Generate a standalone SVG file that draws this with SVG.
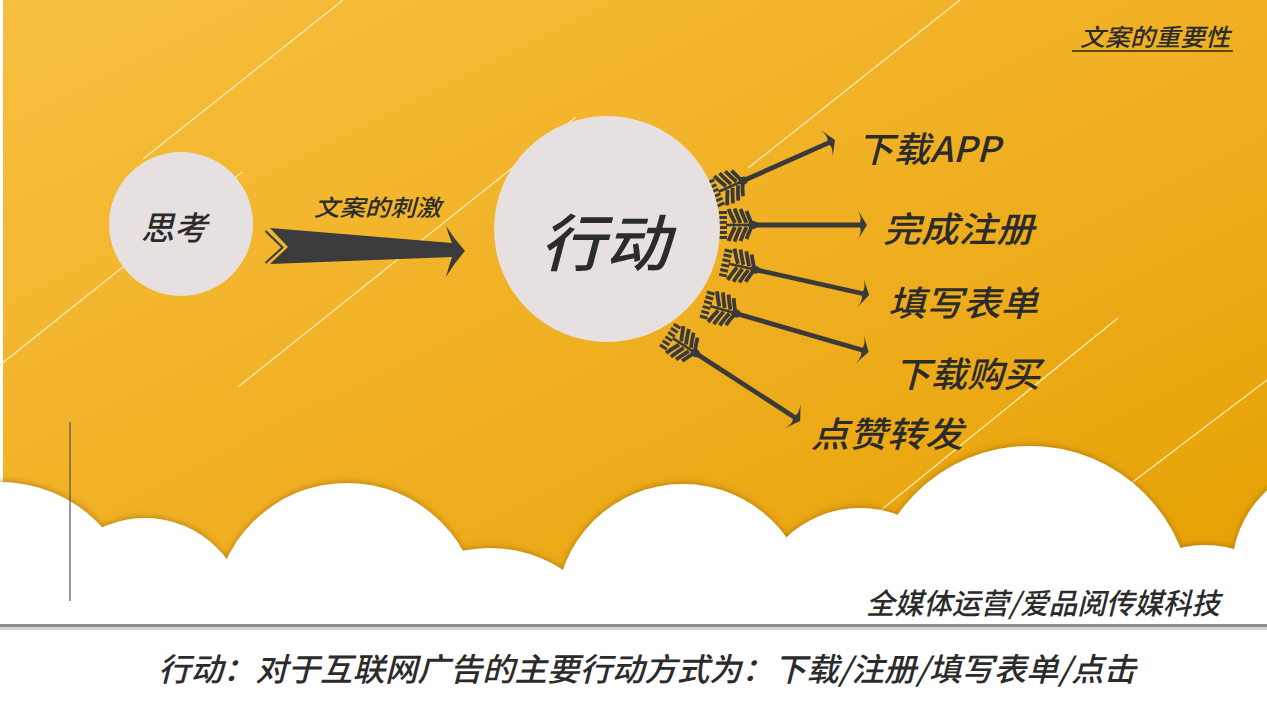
<svg xmlns="http://www.w3.org/2000/svg" xmlns:xlink="http://www.w3.org/1999/xlink" width="1267" height="713" viewBox="0 0 1267 713">
<style>
.t{font-family:"Noto Sans CJK SC","Noto Sans",sans-serif;font-style:italic;font-weight:500;fill:#2b2b2b;}
.dl{stroke:#FFF3CF;stroke-width:1.2;fill:none;opacity:0.9;}
.shaft{stroke:#3a3a3a;stroke-width:4.8;fill:none;}
.node{fill:#E7E0E0;}
</style>
<defs>
<linearGradient id="bg" x1="0" y1="0" x2="1" y2="1">
<stop offset="0" stop-color="#F7BF3F"/>
<stop offset="0.55" stop-color="#EFAE1F"/>
<stop offset="1" stop-color="#E4A000"/>
</linearGradient>
<filter id="sh" x="-5%" y="-30%" width="110%" height="160%">
<feDropShadow dx="0" dy="-1" stdDeviation="3" flood-color="#8a5a00" flood-opacity="0.55"/>
</filter>
<g id="fletch" fill="#3a3a3a" stroke="none">
<rect x="-36" y="-14" width="8" height="3"/>
<rect x="-36" y="-9" width="8" height="3"/>
<rect x="-36" y="-4" width="8" height="2.8"/>
<rect x="-36" y="1.2" width="8" height="2.8"/>
<rect x="-36" y="6" width="8" height="3"/>
<rect x="-36" y="11" width="8" height="3"/>
<g stroke="#3a3a3a" stroke-width="3.8" fill="none">
<path d="M-26.5,-16 Q-23.5,-8.5 -20,-2"/>
<path d="M-20.5,-16.5 Q-17.5,-8.5 -14.5,-2"/>
<path d="M-14.5,-16 Q-11.5,-8 -8.5,-2"/>
<path d="M-8.5,-14 Q-6,-7 -3.5,-2"/>
<path d="M-26.5,16 Q-23.5,8.5 -20,2"/>
<path d="M-20.5,16.5 Q-17.5,8.5 -14.5,2"/>
<path d="M-14.5,16 Q-11.5,8 -8.5,2"/>
<path d="M-8.5,14 Q-6,7 -3.5,2"/>
<line x1="-29" y1="0" x2="0" y2="0" stroke-width="2.6"/>
</g>
<ellipse cx="-2" cy="0" rx="5" ry="4"/>
</g>
<path id="head" d="M0,0 L-9,-14.5 Q-5,-6.5 -7,-2.4 L-7,2.4 Q-5,6.5 -9,14.5 Z" fill="#3a3a3a"/>
</defs>

<rect x="0" y="0" width="1267" height="713" fill="#ffffff"/>
<rect x="3" y="0" width="1264" height="625" fill="url(#bg)"/>

<g id="decor-lines">
<line class="dl" x1="143" y1="159" x2="343" y2="0"/>
<line class="dl" x1="0" y1="365" x2="242" y2="172"/>
<line class="dl" x1="238" y1="387" x2="576" y2="117"/>
<line class="dl" x1="960" y1="0" x2="748" y2="168"/>
<line class="dl" x1="1118" y1="318" x2="881" y2="510"/>
<line class="dl" x1="1267" y1="380" x2="1130" y2="484"/>
</g>

<g id="cloud" fill="#ffffff" filter="url(#sh)">
<circle cx="0" cy="620" r="138"/>
<circle cx="145" cy="620" r="102"/>
<circle cx="347" cy="616" r="133"/>
<circle cx="490" cy="680" r="132"/>
<circle cx="683" cy="611" r="127"/>
<circle cx="860" cy="615" r="107"/>
<circle cx="1030" cy="608" r="162"/>
<circle cx="1205" cy="650" r="105"/>
<circle cx="1340" cy="570" r="108"/>
<rect x="-10" y="590" width="1290" height="130"/>
</g>

<g id="bottom-rule">
<rect x="0" y="624" width="1267" height="3" fill="#8e8e8e"/>
<rect x="0" y="627" width="1267" height="3" fill="#c9c9c9" opacity="0.8"/>
</g>
<line x1="70" y1="422" x2="70" y2="601" stroke="#555" stroke-width="1.2"/>

<g id="title">
<text class="t" x="1080" y="46" font-size="24" textLength="150" lengthAdjust="spacingAndGlyphs">文案的重要性</text>
<line x1="1072" y1="51" x2="1233" y2="51" stroke="#5c4a1c" stroke-width="2"/>
</g>

<g id="connectors">
<g id="stimulus-arrow">
<path d="M270,228 L452,243 Q449,236 446,226 Q455,240 465,251 Q455,262 446,277 Q449,266 452,257 L270,264 L288,247 Z" fill="#3b3b3b"/>
<polyline points="265.5,231 282.5,247.5 265.5,263" fill="none" stroke="#3b3b3b" stroke-width="2"/>
</g>
<g transform="translate(745,180) rotate(-24)"><use xlink:href="#fletch"/><line class="shaft" x1="-2" y1="0" x2="92" y2="0"/><use xlink:href="#head" transform="translate(98.5,0)"/></g>
<g transform="translate(755,225)"><use xlink:href="#fletch"/><line class="shaft" x1="-2" y1="0" x2="106" y2="0"/><use xlink:href="#head" transform="translate(112,0)"/></g>
<g transform="translate(757,270) rotate(12.6)"><use xlink:href="#fletch"/><line class="shaft" x1="-2" y1="0" x2="109" y2="0"/><use xlink:href="#head" transform="translate(115,0)"/></g>
<g transform="translate(738,314) rotate(16.2)"><use xlink:href="#fletch"/><line class="shaft" x1="-2" y1="0" x2="130" y2="0"/><use xlink:href="#head" transform="translate(136,0)"/></g>
<g transform="translate(697,354) rotate(33)"><use xlink:href="#fletch"/><line class="shaft" x1="-2" y1="0" x2="117" y2="0"/><use xlink:href="#head" transform="translate(123,0)"/></g>
</g>

<g id="node-think">
<circle class="node" cx="181" cy="224" r="72"/>
<text class="t" x="174" y="240" font-size="33" text-anchor="middle">思考</text>
</g>
<text class="t" x="314" y="216" font-size="23" textLength="127" lengthAdjust="spacingAndGlyphs">文案的刺激</text>

<g id="node-action">
<circle class="node" cx="607" cy="229" r="113"/>
<text class="t" x="540" y="266" font-size="62" font-weight="400" textLength="130" lengthAdjust="spacingAndGlyphs">行动</text>
</g>

<g id="label-app"><text class="t" x="857" y="162" font-size="35" textLength="143" lengthAdjust="spacingAndGlyphs">下载APP</text></g>
<g id="label-reg"><text class="t" x="883" y="242" font-size="35" textLength="151" lengthAdjust="spacingAndGlyphs">完成注册</text></g>
<g id="label-form"><text class="t" x="888" y="316" font-size="35" textLength="150" lengthAdjust="spacingAndGlyphs">填写表单</text></g>
<g id="label-buy"><text class="t" x="894" y="387" font-size="35" textLength="146" lengthAdjust="spacingAndGlyphs">下载购买</text></g>
<g id="label-like"><text class="t" x="811" y="447" font-size="35" textLength="152" lengthAdjust="spacingAndGlyphs">点赞转发</text></g>

<text class="t" x="866" y="614" font-size="29" textLength="354" lengthAdjust="spacingAndGlyphs">全媒体运营/爱品阅传媒科技</text>
<text class="t" x="158" y="681" font-size="32" textLength="978" lengthAdjust="spacingAndGlyphs">行动：对于互联网广告的主要行动方式为：下载/注册/填写表单/点击</text>
</svg>
